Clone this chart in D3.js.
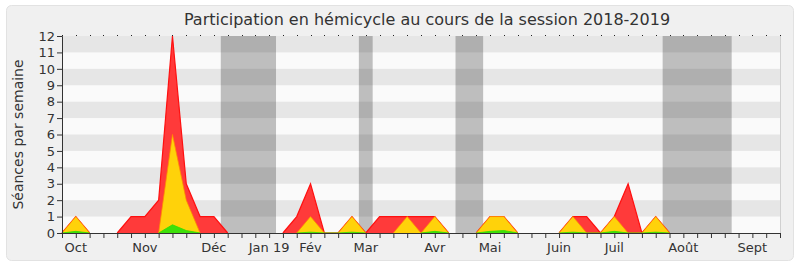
<!DOCTYPE html>
<html>
<head>
<meta charset="utf-8">
<script src="https://cdn.jsdelivr.net/npm/d3@7"></script>
<style>
  body { margin: 0; background: #fff; }
  svg { display: block; font-family: "DejaVu Sans", sans-serif; }
</style>
</head>
<body>
<svg id="canvas" width="800" height="267"></svg>
<script>
// weekly values, week 0 = first week of October 2018
let totalSeances = [0,1,0,0,0,1,1,2,12,3,1,1,0,0,0,0,0,1,3,0,0,1,0,1,1,1,1,1,0,0,0,1,1,0,0,0,0,1,1,0,1,3,0,1,0,0,0,0,0,0,0,0,0]
let presentSeances = [0,1,0,0,0,0,0,0,6,2,0,0,0,0,0,0,0,0,1,0,0,1,0,0,0,1,0,1,0,0,0,1,1,0,0,0,0,1,0,0,1,0,0,1,0,0,0,0,0,0,0,0,0]
let activeSeances = [0,0.1,0,0,0,0,0,0,0.5,0.15,0,0,0,0,0,0,0,0,0.05,0,0,0.05,0,0,0,0,0,0.1,0,0,0,0.1,0.15,0,0,0,0,0.05,0,0,0.1,0,0,0.05,0,0,0,0,0,0,0,0,0]

let monthLabels = ['Oct','Nov','Déc','Jan 19','Fév','Mar','Avr','Mai','Juin','Juil','Août','Sept']
let monthWeeks = [1,6,11,15,18,22,27,31,36,40,45,50]

// parliamentary breaks, in weeks
let vacations = [[11.5,15.5],[21.5,22.5],[28.5,30.5],[43.5,48.5]]

let yTicks = [0,1,2,3,4,5,6,7,8,9,10,11,12]

let canvas = d3.select('#canvas')

let x = d3.scaleLinear().domain([0, 52]).range([62, 780])
let y = d3.scaleLinear().domain([0, 12]).range([233, 36])

canvas.append('rect')
    .attr('x', 6.5).attr('y', 5.5)
    .attr('width', 787).attr('height', 255)
    .attr('rx', 5)
    .attr('fill', '#f0f0f0')
    .attr('stroke', '#e2e2e2')

canvas.append('text')
    .attr('x', 427)
    .attr('y', 25)
    .attr('text-anchor', 'middle')
    .attr('font-size', 16)
    .attr('fill', '#333')
    .text('Participation en hémicycle au cours de la session 2018-2019')

// plot background
canvas.append('rect')
    .attr('x', x(0)).attr('y', y(12))
    .attr('width', x(52) - x(0)).attr('height', y(0) - y(12))
    .attr('fill', '#fafafa')

canvas.selectAll('.vac')
    .data(vacations)
    .enter()
    .append('rect')
    .attr('class', 'vac')
    .attr('x', (v) => x(v[0]))
    .attr('y', y(12))
    .attr('width', (v) => x(v[1]) - x(v[0]))
    .attr('height', y(0) - y(12))
    .attr('fill', '#bebebe')

canvas.selectAll('.band')
    .data(yTicks.filter((t) => t % 2 == 1))
    .enter()
    .append('rect')
    .attr('class', 'band')
    .attr('x', x(0))
    .attr('y', (t) => y(t + 1))
    .attr('width', x(52) - x(0))
    .attr('height', (t) => y(t) - y(t + 1))
    .attr('fill', 'rgba(0,0,0,0.08)')

canvas.append('line')
    .attr('x1', x(52) + 0.5).attr('x2', x(52) + 0.5)
    .attr('y1', y(12)).attr('y2', y(0))
    .attr('stroke', '#d0d0d0')

let area = (values) => d3.area()
    .x((d, i) => x(i))
    .y0(y(0))
    .y1((d) => y(d))(values)

let line = (values) => d3.line()
    .x((d, i) => x(i))
    .y((d) => y(d))
    .defined((d, i) => d > 0 || values[i - 1] > 0 || values[i + 1] > 0)(values)

let drawSeries = (values, fill, stroke, width) => {
    canvas.append('path')
        .attr('d', area(values))
        .attr('fill', fill)
    canvas.append('path')
        .attr('d', line(values))
        .attr('fill', 'none')
        .attr('stroke', stroke)
        .attr('stroke-width', width)
}

drawSeries(totalSeances, '#ff3a3a', '#ff1010', 1.2)
drawSeries(presentSeances, '#ffd20a', 'rgba(255,140,0,0.75)', 1)
drawSeries(activeSeances, '#3de00a', '#33dd00', 0.8)

// axes
let xAxis = d3.axisBottom(x)
    .tickValues(d3.range(0, 53))
    .tickSize(5)
    .tickFormat('')

canvas.append('g')
    .attr('transform', 'translate(0,' + y(0) + ')')
    .call(xAxis)
    .call((g) => g.selectAll('path, line').attr('stroke', '#333'))

// dotted top ticks
canvas.selectAll('.dot')
    .data(d3.range(0, 53))
    .enter()
    .append('rect')
    .attr('class', 'dot')
    .attr('x', (i) => Math.round(x(i)))
    .attr('y', y(12) - 1)
    .attr('width', 1).attr('height', 1)
    .attr('fill', '#222')

canvas.selectAll('.month')
    .data(monthLabels)
    .enter()
    .append('text')
    .attr('class', 'month')
    .attr('x', (m, i) => x(monthWeeks[i]))
    .attr('y', 252)
    .attr('text-anchor', 'middle')
    .attr('font-size', 13)
    .attr('fill', '#333')
    .text((m) => m)

let yAxis = d3.axisLeft(y)
    .tickValues(yTicks)
    .tickSize(5)
    .tickPadding(2)
    .tickFormat(d3.format('d'))

canvas.append('g')
    .attr('transform', 'translate(' + x(0) + ',0)')
    .call(yAxis)
    .call((g) => g.selectAll('path, line').attr('stroke', '#333'))
    .call((g) => g.selectAll('text').attr('font-size', 13).attr('fill', '#333').attr('font-family', '"DejaVu Sans", sans-serif'))

canvas.append('text')
    .attr('transform', 'translate(23,' + ((y(0) + y(12)) / 2) + ') rotate(-90)')
    .attr('text-anchor', 'middle')
    .attr('font-size', 14)
    .attr('fill', '#333')
    .text('Séances par semaine')
</script>
</body>
</html>
